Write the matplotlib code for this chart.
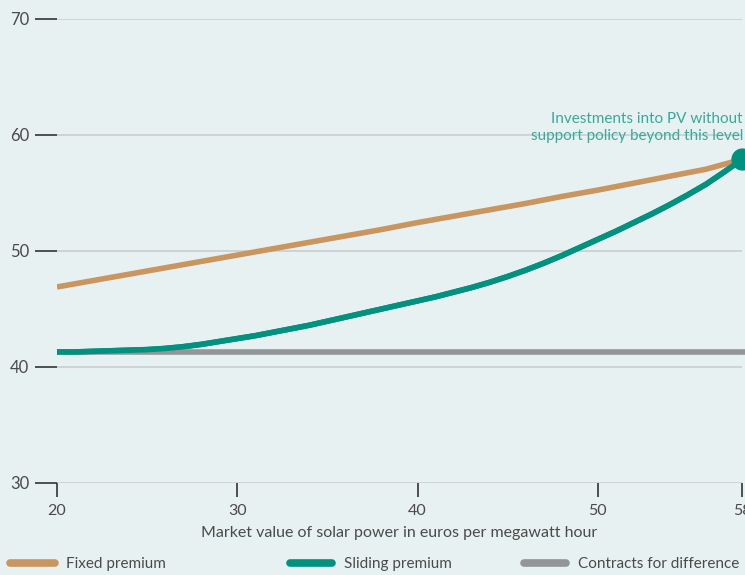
import matplotlib.pyplot as plt
from matplotlib.lines import Line2D

plt.rcParams['font.family'] = ['Lato', 'DejaVu Sans']

# values (euros per MWh)
market_value = list(range(20, 59, 2))
fixed_premium = [46.9, 47.45, 48.0, 48.55, 49.1, 49.65, 50.2, 50.75, 51.3, 51.85,
                 52.45, 53.0, 53.55, 54.1, 54.7, 55.25, 55.85, 56.45, 57.05, 57.9]
sliding_x = list(range(20, 59))
sliding_premium = [41.3, 41.3, 41.35, 41.4, 41.45, 41.5, 41.6, 41.75, 41.95, 42.2,
                   42.45, 42.7, 43.0, 43.3, 43.6, 43.95, 44.3, 44.65, 45.0, 45.35,
                   45.7, 46.05, 46.45, 46.85, 47.3, 47.8, 48.35, 48.95, 49.6, 50.3,
                   51.0, 51.7, 52.45, 53.2, 54.0, 54.85, 55.75, 56.8, 57.9]
cfd_x = [20, 59]
cfd = [41.3, 41.3]

x_ticks = [20, 30, 40, 50, 58]
y_ticks = [30, 40, 50, 60, 70]
labels = ['Fixed premium', 'Sliding premium', 'Contracts for difference']

bg = '#e8f1f2'
c_fixed = '#c9965f'
c_sliding = '#00917f'
c_cfd = '#939598'
txt = '#4a4a4a'

fig = plt.figure(figsize=(7.45, 5.75), dpi=100, facecolor=bg)
ax = fig.add_axes([57 / 745, 1 - 483 / 575, 685 / 745, 464 / 575])
ax.set_facecolor(bg)

ax.plot(sliding_x, sliding_premium, color=c_sliding, lw=4, solid_capstyle='butt')
ax.plot(cfd_x, cfd, color=c_cfd, lw=4, solid_capstyle='butt', clip_on=False)
ax.plot(market_value, fixed_premium, color=c_fixed, lw=4, solid_capstyle='butt')
ax.plot(sliding_x, sliding_premium, color=c_sliding, lw=4, solid_capstyle='butt')
ax.plot([58], [57.9], 'o', color=c_sliding, ms=15, clip_on=False, zorder=5)

ax.text(58.05, 59.35, 'Investments into PV without\nsupport policy beyond this level',
        ha='right', va='bottom', color='#3aa89a', fontsize=11, linespacing=1.25)

ax.set_xlim(20, 58)
ax.set_ylim(30, 70)
ax.set_xticks(x_ticks)
ax.set_yticks(y_ticks)
for s in ax.spines.values():
    s.set_visible(False)
ax.grid(axis='y', color='#c9cfd1', lw=1.2)
ax.set_axisbelow(True)
ax.tick_params(axis='y', length=16, width=1.2, color='#333333', labelcolor=txt,
               labelsize=12, pad=4)
ax.tick_params(axis='x', length=10, width=1.2, color='#333333', labelcolor=txt,
               labelsize=11.5, pad=5)
ax.set_xlabel('Market value of solar power in euros per megawatt hour',
              color=txt, fontsize=11.5, labelpad=6)

# legend drawn by hand: three entries at uneven spacing
legend_x = [(10, 55, 66), (290, 332, 344), (524, 566, 578)]
for (x0, x1, xt), lab, col in zip(legend_x, labels, [c_fixed, c_sliding, c_cfd]):
    fig.add_artist(Line2D([x0 / 745, x1 / 745], [1 - 563 / 575] * 2, color=col,
                          lw=5.5, solid_capstyle='round', transform=fig.transFigure))
    fig.text(xt / 745, 1 - 564 / 575, lab, ha='left', va='center',
             color=txt, fontsize=11)

fig.savefig('out.png', dpi=100, facecolor=bg)
